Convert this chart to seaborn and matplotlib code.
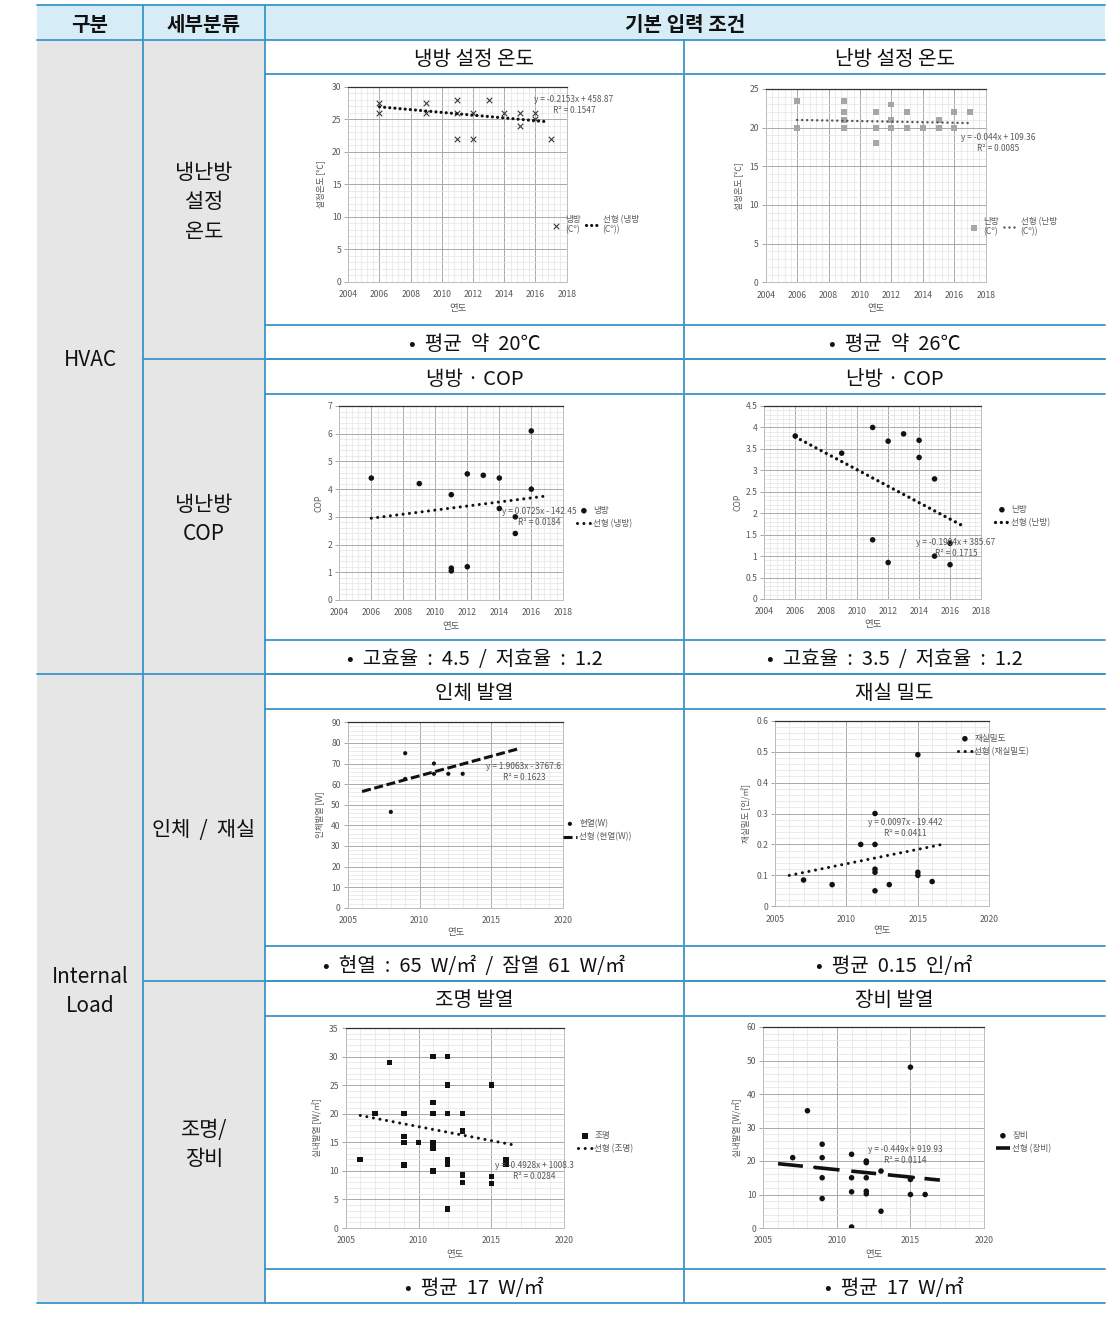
import numpy as np
import pandas as pd
import matplotlib
matplotlib.use("Agg")
import matplotlib.pyplot as plt
import seaborn as sns
from matplotlib.ticker import MultipleLocator, FuncFormatter
from matplotlib.patches import Rectangle
from matplotlib.lines import Line2D

sns.set_theme(style="white")
plt.rcParams['font.family'] = ['Noto Sans CJK KR', 'DejaVu Sans']
plt.rcParams['lines.scale_dashes'] = False
plt.rcParams['axes.unicode_minus'] = False

# ---------------- data ----------------
# 1 냉방 설정 온도
cool_temp_year = [2006, 2006, 2009, 2009, 2011, 2011, 2011, 2012, 2012, 2013, 2014, 2015, 2015, 2016, 2016, 2017]
cool_temp_val = [27.5, 26, 27.5, 26, 28, 26, 22, 26, 22, 28, 26, 26, 24, 26, 25, 22]
cool_temp_trend_year = [2006, 2016.8]
cool_temp_trend_val = [26.9, 24.6]
cool_temp_eq = "y = -0.2153x + 458.87\nR² = 0.1547"

# 2 난방 설정 온도
heat_temp_year = [2006, 2006, 2009, 2009, 2009, 2009, 2011, 2011, 2011, 2012, 2012, 2012, 2013, 2013, 2014, 2015, 2015, 2016, 2016, 2017]
heat_temp_val = [23.5, 20, 23.5, 22, 21, 20, 22, 20, 18, 23, 21, 20, 22, 20, 20, 21, 20, 22, 20, 22]
heat_temp_trend_year = [2006, 2016.9]
heat_temp_trend_val = [21.0, 20.6]
heat_temp_eq = "y = -0.044x + 109.36\nR² = 0.0085"

# 3 냉방 COP
cool_cop_year = [2006, 2009, 2011, 2011, 2011, 2012, 2012, 2013, 2014, 2014, 2015, 2015, 2016, 2016]
cool_cop_val = [4.4, 4.2, 3.8, 1.15, 1.05, 4.55, 1.2, 4.5, 4.4, 3.3, 3.0, 2.4, 6.1, 4.0]
cool_cop_trend_year = [2006, 2016.9]
cool_cop_trend_val = [2.95, 3.75]
cool_cop_eq = "y = 0.0725x - 142.45\nR² = 0.0184"

# 4 난방 COP
heat_cop_year = [2006, 2009, 2011, 2011, 2012, 2012, 2013, 2014, 2014, 2015, 2015, 2016, 2016]
heat_cop_val = [3.8, 3.4, 4.0, 1.38, 3.68, 0.85, 3.85, 3.7, 3.3, 2.8, 1.0, 1.3, 0.8]
heat_cop_trend_year = [2006, 2016.8]
heat_cop_trend_val = [3.78, 1.71]
heat_cop_eq = "y = -0.1904x + 385.67\nR² = 0.1715"

# 5 인체 발열
body_year = [2008, 2009, 2009, 2011, 2011, 2012, 2013]
body_val = [46.5, 75, 62.5, 70, 65, 65, 65]
body_trend_year = [2006, 2016.8]
body_trend_val = [56.4, 77.0]
body_eq = "y = 1.9063x - 3767.6\nR² = 0.1623"

# 6 재실 밀도
occ_year = [2007, 2009, 2011, 2012, 2012, 2012, 2012, 2012, 2013, 2015, 2015, 2015, 2016]
occ_val = [0.085, 0.07, 0.2, 0.3, 0.2, 0.12, 0.11, 0.05, 0.07, 0.49, 0.11, 0.1, 0.08]
occ_trend_year = [2006, 2016.7]
occ_trend_val = [0.10, 0.20]
occ_eq = "y = 0.0097x - 19.442\nR² = 0.0411"

# 7 조명 발열
light_year = [2006, 2007, 2008, 2009, 2009, 2009, 2009, 2010, 2011, 2011, 2011, 2011, 2011, 2011,
              2012, 2012, 2012, 2012, 2012, 2012, 2013, 2013, 2013, 2013, 2015, 2015, 2015, 2016, 2016]
light_val = [12, 20, 29, 20, 16, 15, 11, 15, 30, 22, 20, 15, 14, 10,
             30, 25, 20, 12, 11.2, 3.3, 20, 17, 9.3, 8, 25, 9, 7.8, 12, 11.2]
light_trend_year = [2006, 2016.8]
light_trend_val = [19.7, 14.4]
light_eq = "y = -0.4928x + 1008.3\nR² = 0.0284"

# 8 장비 발열
equip_year = [2007, 2008, 2009, 2009, 2009, 2009, 2011, 2011, 2011, 2011, 2012, 2012, 2012, 2012, 2012,
              2013, 2013, 2015, 2015, 2015, 2016]
equip_val = [21, 35, 25, 21, 15, 8.8, 22, 15, 10.8, 0.3, 20, 19.5, 15, 11, 10.2, 17, 5, 48, 14.5, 10, 10]
equip_small_year = [2008.5, 2011.8, 2015.2]
equip_small_val = [18.1, 16.6, 15.1]
equip_trend_year = [2006, 2017]
equip_trend_val = [19.2, 14.3]
equip_eq = "y = -0.449x + 919.93\nR² = 0.0114"

# table texts
header_labels = ["구분", "세부분류", "기본 입력 조건"]
cell_titles = [("냉방 설정 온도", "난방 설정 온도"), ("냉방 · COP", "난방 · COP"),
               ("인체 발열", "재실 밀도"), ("조명 발열", "장비 발열")]
cell_notes = [("•  평균  약  20℃", "•  평균  약  26℃"),
              ("•  고효율  :  4.5  /  저효율  :  1.2", "•  고효율  :  3.5  /  저효율  :  1.2"),
              ("•  현열  :  65  W/㎡  /  잠열  61  W/㎡", "•  평균  0.15  인/㎡"),
              ("•  평균  17  W/㎡", "•  평균  17  W/㎡")]
group_labels = ["HVAC", "Internal\nLoad"]
sub_labels = ["냉난방\n설정\n온도", "냉난방\nCOP", "인체  /  재실", "조명/\n장비"]

# ---------------- figure & table ----------------
W, H = 1119, 1329
fig = plt.figure(figsize=(W / 100, H / 100), dpi=100)
fig.patch.set_facecolor('white')

def fx(x):
    return x / W

def fy(y):
    return 1 - y / H

LINE = '#3a95c9'
GRAY = '#e6e6e6'
HEAD = '#d6ecf7'

cols = [37, 143, 265, 684, 1105]
rows = [5, 40, 74, 325, 359, 394, 640, 674, 709, 946, 981, 1016, 1269, 1303]

def rect(x0, y0, x1, y1, color):
    fig.add_artist(Rectangle((fx(x0), fy(y1)), (x1 - x0) / W, (y1 - y0) / H,
                             transform=fig.transFigure, facecolor=color, edgecolor='none', zorder=0.5))

def hline(y, x0, x1):
    fig.add_artist(Line2D([fx(x0), fx(x1)], [fy(y), fy(y)], transform=fig.transFigure,
                          color=LINE, lw=1.3, zorder=2))

def vline(x, y0, y1):
    fig.add_artist(Line2D([fx(x), fx(x)], [fy(y0), fy(y1)], transform=fig.transFigure,
                          color=LINE, lw=1.3, zorder=2))

rect(37, 5, 1105, 40, HEAD)
rect(37, 40, 265, 1303, GRAY)

for y in rows[2:-1]:
    hline(y, 265, 1105)
hline(5, 37, 1105)
hline(40, 37, 1105)
hline(674, 37, 1105)
hline(359, 143, 1105)
hline(981, 143, 1105)
hline(1303, 37, 1105)
vline(143, 5, 1303)
vline(265, 5, 1303)
vline(684, 40, 1303)

YOFF = 2.5

def ftext(x, y, s, size=14.5, **kw):
    fig.text(fx(x), fy(y + YOFF), s, ha='center', va='center', fontsize=size, color='#111111',
             linespacing=1.45, **kw)

ftext(90, 22, header_labels[0], size=14.5, weight='bold')
ftext(204, 22, header_labels[1], size=14.5, weight='bold')
ftext(685, 22, header_labels[2], size=14.5, weight='bold')

title_y = [57, 377, 691, 998]
note_y = [342, 657, 964, 1286]
for i in range(4):
    ftext(474.5, title_y[i], cell_titles[i][0])
    ftext(894.5, title_y[i], cell_titles[i][1])
    ftext(474.5, note_y[i], cell_notes[i][0])
    ftext(894.5, note_y[i], cell_notes[i][1])

ftext(90, 357, group_labels[0], size=15)
ftext(90, 989, group_labels[1], size=15)
for y, s in zip([200, 517, 828, 1142], sub_labels):
    ftext(204, y, s, size=15)

# ---------------- charts ----------------
TXT = '#595959'

def fmt(v, pos):
    return f"{v:g}"

def chart(box, xlim, xmaj, ylim, ymaj, ymin_, ylabel, ylab_x, xlab_y,
          year, val, label, marker, color, size, trend_year, trend_val, trend_label,
          trend_style, eq, eq_xy, leg_xy, leg_ncol=1, small=None):
    l, t, r, b = box
    ax = fig.add_axes([fx(l), fy(b), (r - l) / W, (b - t) / H])
    ax.set_xlim(*xlim)
    ax.set_ylim(*ylim)
    ax.xaxis.set_major_locator(MultipleLocator(xmaj))
    ax.xaxis.set_minor_locator(MultipleLocator(xmaj / 5))
    ax.yaxis.set_major_locator(MultipleLocator(ymaj))
    ax.yaxis.set_minor_locator(MultipleLocator(ymin_))
    ax.yaxis.set_major_formatter(FuncFormatter(fmt))
    ax.grid(which='major', color='#a9a9a9', lw=0.7)
    ax.grid(which='minor', color='#e3e3e3', lw=0.5)
    ax.set_axisbelow(True)
    ax.tick_params(axis='y', which='major', length=3, width=0.6, color='#999999', pad=2,
                   labelsize=6.2, labelcolor=TXT, left=True)
    ax.tick_params(axis='x', which='major', length=0, pad=6, labelsize=6.2, labelcolor=TXT)
    ax.tick_params(which='minor', length=0)
    for s in ax.spines.values():
        s.set_color('#bdbdbd')
        s.set_linewidth(0.7)
    ax.spines['top'].set_color('#303030')
    ax.spines['top'].set_linewidth(0.9)

    df = pd.DataFrame({'연도': year, 'v': val})
    kw = dict(marker=marker, s=size, color=color, label=label, ax=ax, legend=False, zorder=3)
    if marker == 'x':
        kw.update(linewidth=0.8)
    else:
        kw.update(linewidth=0, edgecolor='none')
    sns.scatterplot(data=df, x='연도', y='v', **kw)
    if small is not None:
        sdf = pd.DataFrame({'연도': small[0], 'v': small[1]})
        sns.scatterplot(data=sdf, x='연도', y='v', marker='o', s=6, color=color,
                        linewidth=0, edgecolor='none', ax=ax, legend=False, zorder=3)
    tdf = pd.DataFrame({'연도': trend_year, 'v': trend_val})
    ax.plot(tdf['연도'], tdf['v'], label=trend_label, zorder=4, **trend_style)

    ax.set_xlabel('연도', fontsize=6.8, color=TXT)
    ax.set_ylabel(ylabel, fontsize=6.2, color=TXT)
    ax.xaxis.set_label_coords(fx((l + r) / 2), fy(xlab_y), transform=fig.transFigure)
    ax.xaxis.label.set_va('center')
    ax.yaxis.set_label_coords(fx(ylab_x), fy((t + b) / 2), transform=fig.transFigure)
    ax.yaxis.label.set_va('center')

    fig.text(fx(eq_xy[0]), fy(eq_xy[1]), eq, ha='center', va='center', multialignment='center',
             fontsize=6.0, color=TXT, linespacing=1.3)
    ax.legend(loc='upper left', bbox_to_anchor=(fx(leg_xy[0]), fy(leg_xy[1])),
              bbox_transform=fig.transFigure, frameon=False, fontsize=6.2, labelcolor=TXT,
              borderpad=0, borderaxespad=0, handlelength=1.6, handletextpad=0.3,
              labelspacing=0.5, ncol=leg_ncol, columnspacing=0.6, markerscale=1.0)
    return ax

dot = lambda c, lw, gap: dict(color=c, lw=lw, linestyle=(0, (0.01, gap)), solid_capstyle='round',
                               dash_capstyle='round')

# 1
chart((348.3, 86.7, 566.7, 281.7), (2004, 2018), 2, (0, 30), 5, 1, '설정온도 [℃]', 321, 308,
      cool_temp_year, cool_temp_val, '냉방\n(Cº)', 'x', '#3a3a3a', 16,
      cool_temp_trend_year, cool_temp_trend_val, '선형 (냉방\n(Cº))', dot('#111111', 2.3, 3.7),
      cool_temp_eq, (574, 105), (549, 215), leg_ncol=2)
# 2
chart((765.7, 89, 985.7, 282.3), (2004, 2018), 2, (0, 25), 5, 1, '설정온도 [℃]', 739, 309,
      heat_temp_year, heat_temp_val, '난방\n(Cº)', 's', '#a6a6a6', 18,
      heat_temp_trend_year, heat_temp_trend_val, '선형 (난방\n(Cº))', dot('#555555', 1.8, 3.6),
      heat_temp_eq, (998, 143), (967, 217), leg_ncol=2)
# 3
chart((339.3, 406, 563.3, 600), (2004, 2018), 2, (0, 7), 1, 0.2, 'COP', 319, 626,
      cool_cop_year, cool_cop_val, '냉방', 'o', '#111111', 16,
      cool_cop_trend_year, cool_cop_trend_val, '선형 (냉방)', dot('#111111', 2.2, 4.6),
      cool_cop_eq, (539, 517), (577, 506))
# 4
chart((764.3, 406, 981, 599), (2004, 2018), 2, (0, 4.5), 0.5, 0.1, 'COP', 738, 625,
      heat_cop_year, heat_cop_val, '난방', 'o', '#111111', 16,
      heat_cop_trend_year, heat_cop_trend_val, '선형 (난방)', dot('#111111', 2.4, 4.2),
      heat_cop_eq, (956, 548), (995, 505))
# 5
chart((347.7, 722.3, 563.3, 907.7), (2005, 2020), 5, (0, 90), 10, 2, '인체발열 [W]', 320, 932,
      body_year, body_val, '현열(W)', 'o', '#111111', 9,
      body_trend_year, body_trend_val, '선형 (현열(W))',
      dict(color='#111111', lw=2.2, linestyle=(0, (6.5, 2.6)), solid_capstyle='butt'),
      body_eq, (524, 772), (563, 819))
# 6
chart((775, 720.7, 989.3, 906.3), (2005, 2020), 5, (0, 0.6), 0.1, 0.02, '재실밀도 [인/㎡]', 746, 931,
      occ_year, occ_val, '재실밀도', 'o', '#111111', 16,
      occ_trend_year, occ_trend_val, '선형 (재실밀도)', dot('#111111', 2.2, 4.8),
      occ_eq, (905, 828), (958, 734))
# 7
chart((345.7, 1028, 564.3, 1228), (2005, 2020), 5, (0, 35), 5, 1, '실내발열 [W/㎡]', 317, 1254,
      light_year, light_val, '조명', 's', '#111111', 16,
      light_trend_year, light_trend_val, '선형 (조명)', dot('#111111', 2.2, 4.8),
      light_eq, (534, 1171), (578, 1131))
# 8
chart((763.3, 1027, 984, 1228), (2005, 2020), 5, (0, 60), 10, 2, '실내발열 [W/㎡]', 737, 1254,
      equip_year, equip_val, '장비', 'o', '#111111', 16,
      equip_trend_year, equip_trend_val, '선형 (장비)',
      dict(color='#111111', lw=2.6, linestyle=(0, (18, 8.5)), solid_capstyle='butt'),
      equip_eq, (905, 1155), (996, 1131), small=(equip_small_year, equip_small_val))

fig.savefig('out.png', dpi=100)
